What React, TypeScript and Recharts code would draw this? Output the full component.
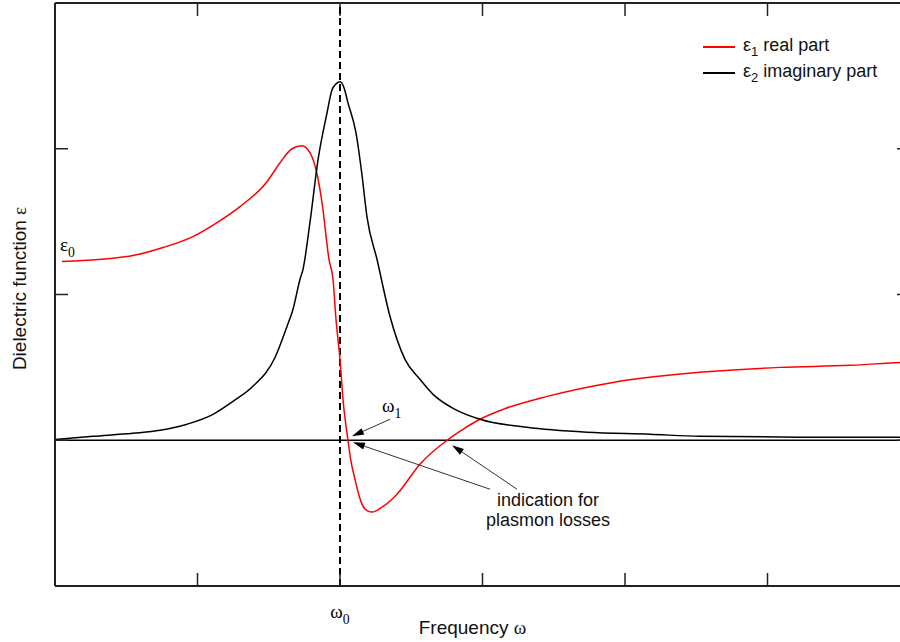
import { LineChart, Line, XAxis, YAxis, ReferenceLine, ReferenceDot, Legend } from "recharts";

const SANS = '"Liberation Sans", Arial, sans-serif';
const SERIF = '"Liberation Serif", "Times New Roman", serif';

// frequency in units of the tick spacing, resonance omega0 sits at 2
const realX = [
  0.049, 0.196, 0.386, 0.547, 0.758, 0.968, 1.137, 1.298, 1.488, 1.579, 1.663, 1.733, 1.789,
  1.832, 1.874, 1.923, 1.951, 1.972, 2.0, 2.021, 2.056, 2.077, 2.105, 2.133, 2.161, 2.196,
  2.225, 2.295, 2.4, 2.561, 2.751, 2.863, 2.982, 3.144, 3.453, 3.916, 4.526, 5.088, 5.579,
  5.93, 6.0,
];
const realY = [
  1.226, 1.233, 1.247, 1.267, 1.322, 1.397, 1.493, 1.603, 1.774, 1.904, 2.0, 2.021, 1.973,
  1.856, 1.63, 1.24, 1.103, 0.829, 0.555, 0.281, 0.0, -0.144, -0.267, -0.377, -0.452, -0.486,
  -0.493, -0.459, -0.37, -0.164, 0.0, 0.075, 0.144, 0.212, 0.301, 0.397, 0.466, 0.5, 0.514,
  0.534, 0.537,
];

const imagX = [
  0.0, 0.267, 0.547, 0.737, 0.926, 1.109, 1.249, 1.389, 1.544, 1.628, 1.67, 1.719, 1.74, 1.789,
  1.846, 1.909, 1.944, 1.972, 2.0, 2.028, 2.056, 2.112, 2.154, 2.189, 2.26, 2.351, 2.456,
  2.561, 2.653, 2.807, 2.982, 3.312, 3.733, 4.175, 4.526, 5.228, 5.93, 6.0,
];
const imagY = [
  0.005, 0.027, 0.048, 0.068, 0.11, 0.178, 0.267, 0.37, 0.568, 0.781, 0.897, 1.103, 1.171, 1.493,
  1.925, 2.247, 2.404, 2.445, 2.459, 2.418, 2.315, 2.11, 1.822, 1.534, 1.24, 0.849, 0.555,
  0.418, 0.315, 0.212, 0.144, 0.089, 0.055, 0.041, 0.027, 0.021, 0.021, 0.02,
];

const xTicks = [0, 1, 2, 3, 4, 5, 6];
const yTicks = [-1, 0, 1, 2, 3];
const yTop = 3;
const topTickLen = 0.089; // same 13px as the other frame ticks, in eps units
const omega0 = 2;

const seriesKeys = ["eps1", "eps2"];
const seriesNames = ["real part", "imaginary part"];
const seriesSubs = ["1", "2"];
const seriesColors = ["#ff0000", "#000000"];

// arrows: [tail, tip]
const arrows = [
  [{ x: 2.351, y: 0.144 }, { x: 2.084, y: 0.027 }],
  [{ x: 3.053, y: -0.336 }, { x: 2.091, y: -0.014 }],
  [{ x: 3.242, y: -0.336 }, { x: 2.786, y: -0.034 }],
];

const realPart = realX.map((x, i) => ({ x, eps1: realY[i] }));
const imagPart = imagX.map((x, i) => ({ x, eps2: imagY[i] }));

function GreekSub({ x, y, letter, sub, anchor = "start", size = 19 }: any) {
  return (
    <text x={x} y={y} textAnchor={anchor} fill="#000" fontFamily={SERIF}>
      <tspan fontSize={size} fill="#000">
        {letter}
      </tspan>
      <tspan fontSize={size * 0.72} dy={size * 0.3} fill="#000">
        {sub}
      </tspan>
    </text>
  );
}

function Arrow(props: any) {
  const { x1, y1, x2, y2 } = props;
  const dx = x2 - x1;
  const dy = y2 - y1;
  const len = Math.hypot(dx, dy) || 1;
  const ux = dx / len;
  const uy = dy / len;
  const L = 12;
  const W = 3.5;
  const bx = x2 - ux * L;
  const by = y2 - uy * L;
  const pts = `${x2},${y2} ${bx - uy * W},${by + ux * W} ${bx + uy * W},${by - ux * W}`;
  return (
    <g>
      <line x1={x1} y1={y1} x2={bx} y2={by} stroke="#333" strokeWidth={1} />
      <polygon points={pts} fill="#000" />
    </g>
  );
}

// tick marks only, no labels
const NoLabel = () => <g />;

function renderLegend({ payload }: any) {
  const items = [...(payload || [])].sort(
    (a: any, b: any) => seriesKeys.indexOf(a.dataKey) - seriesKeys.indexOf(b.dataKey)
  );
  return (
    <div style={{ fontFamily: SANS, fontSize: 18, color: "#111" }}>
      {items.map((entry: any) => {
        const i = seriesKeys.indexOf(entry.dataKey);
        return (
          <div key={entry.dataKey} style={{ display: "flex", alignItems: "center", height: 26 }}>
            <svg width={32} height={4}>
              <line x1={0} x2={32} y1={2} y2={2} stroke={seriesColors[i]} strokeWidth={2} />
            </svg>
            <span style={{ marginLeft: 8, whiteSpace: "nowrap" }}>
              ε<sub style={{ fontSize: 13 }}>{seriesSubs[i]}</sub> {seriesNames[i]}
            </span>
          </div>
        );
      })}
    </div>
  );
}

const axisLine = { stroke: "#222", strokeWidth: 2 };
const tickLine = { stroke: "#222", strokeWidth: 1.5 };

export default function App() {
  return (
    <div
      style={{
        position: "absolute",
        left: 0,
        top: 0,
        width: 900,
        height: 642,
        overflow: "hidden",
        background: "#fff",
        fontFamily: SANS,
      }}
    >
      <LineChart width={920} height={642} margin={{ top: 3, right: 10, bottom: 56, left: 55 }}>
        <XAxis
          dataKey="x"
          type="number"
          domain={[0, 6]}
          ticks={xTicks}
          allowDataOverflow
          mirror
          tick={NoLabel}
          tickSize={13}
          axisLine={axisLine}
          tickLine={tickLine}
        />
        <YAxis
          type="number"
          domain={[-1, 3]}
          ticks={yTicks}
          allowDataOverflow
          mirror
          tick={NoLabel}
          tickSize={13}
          axisLine={axisLine}
          tickLine={tickLine}
        />
        <YAxis
          yAxisId="frameRight"
          orientation="right"
          type="number"
          domain={[-1, 3]}
          ticks={yTicks}
          allowDataOverflow
          mirror
          tick={NoLabel}
          tickSize={13}
          axisLine={axisLine}
          tickLine={tickLine}
        />

        {/* top frame line and its inward ticks */}
        <ReferenceLine y={yTop} stroke="#222" strokeWidth={2} ifOverflow="extendDomain" />
        {xTicks.map((t) => (
          <ReferenceLine
            key={`top-${t}`}
            segment={[
              { x: t, y: yTop },
              { x: t, y: yTop - topTickLen },
            ]}
            stroke="#222"
            strokeWidth={1.5}
          />
        ))}

        {/* axis titles hung on the frame edges */}
        <ReferenceLine
          x={0}
          stroke="none"
          label={{
            content: ({ viewBox }: any) => (
              <text
                transform={`translate(${viewBox.x - 29},${viewBox.y + viewBox.height / 2 - 6}) rotate(-90)`}
                textAnchor="middle"
                fontFamily={SANS}
                fontSize={19}
                fill="#111"
              >
                Dielectric function <tspan fontFamily={SERIF}>ε</tspan>
              </text>
            ),
          }}
        />
        <ReferenceLine
          y={-1}
          stroke="none"
          label={{
            content: ({ viewBox }: any) => (
              <text
                x={viewBox.x + viewBox.width / 2 - 10}
                y={viewBox.y + 48}
                textAnchor="middle"
                fontFamily={SANS}
                fontSize={19}
                fill="#111"
              >
                Frequency <tspan fontFamily={SERIF}>ω</tspan>
              </text>
            ),
          }}
        />

        <ReferenceLine y={0} stroke="#000" strokeWidth={1.5} />
        <ReferenceLine
          x={omega0}
          stroke="#000"
          strokeWidth={2}
          strokeDasharray="7 4"
          label={{
            content: ({ viewBox }: any) => (
              <GreekSub
                x={viewBox.x}
                y={viewBox.y + viewBox.height + 32}
                letter="ω"
                sub="0"
                anchor="middle"
              />
            ),
          }}
        />

        <Line
          data={realPart}
          dataKey="eps1"
          name={seriesNames[0]}
          type="monotone"
          stroke={seriesColors[0]}
          strokeWidth={1.5}
          dot={false}
          activeDot={false}
          isAnimationActive={false}
        />
        <Line
          data={imagPart}
          dataKey="eps2"
          name={seriesNames[1]}
          type="monotone"
          stroke={seriesColors[1]}
          strokeWidth={1.5}
          dot={false}
          activeDot={false}
          isAnimationActive={false}
        />

        {arrows.map((seg, i) => (
          <ReferenceLine key={i} segment={seg} shape={Arrow} />
        ))}

        <ReferenceDot
          x={0.035}
          y={1.297}
          r={0}
          fill="none"
          stroke="none"
          label={{
            content: ({ viewBox }: any) => (
              <GreekSub x={viewBox.x} y={viewBox.y} letter="ε" sub="0" />
            ),
          }}
        />
        <ReferenceDot
          x={2.295}
          y={0.192}
          r={0}
          fill="none"
          stroke="none"
          label={{
            content: ({ viewBox }: any) => (
              <GreekSub x={viewBox.x} y={viewBox.y} letter="ω" sub="1" />
            ),
          }}
        />
        <ReferenceDot
          x={3.46}
          y={-0.453}
          r={0}
          fill="none"
          stroke="none"
          label={{
            content: ({ viewBox }: any) => (
              <text
                x={viewBox.x}
                y={viewBox.y}
                textAnchor="middle"
                fontFamily={SANS}
                fontSize={18}
                fill="#111"
              >
                <tspan x={viewBox.x}>indication for</tspan>
                <tspan x={viewBox.x} dy={20}>
                  plasmon losses
                </tspan>
              </text>
            ),
          }}
        />

        <Legend
          layout="vertical"
          verticalAlign="middle"
          align="center"
          wrapperStyle={{ top: 34, left: 703, width: 200 }}
          content={renderLegend}
        />
      </LineChart>
    </div>
  );
}
